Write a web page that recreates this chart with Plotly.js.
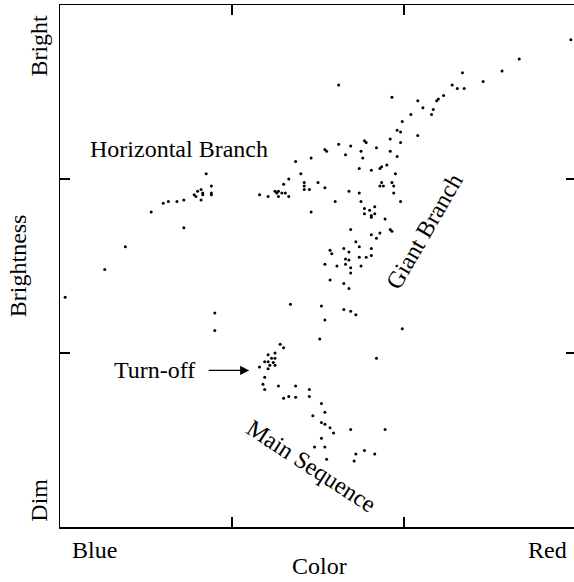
<!DOCTYPE html>
<html>
<head>
<meta charset="utf-8">
<script src="https://cdn.plot.ly/plotly-3.0.1.min.js"></script>
<style>html,body{margin:0;padding:0;background:#fff;overflow:hidden;}#chart{width:576px;height:582px;}</style>
</head>
<body>
<div id="chart"></div>
<script>
// Star colour index (0 = blue end, 3 = red end) and brightness (0 = dim, 3 = bright)
const giantColor = [2.97,2.67,2.57,2.46,2.34,2.28,2.31,2.35,2.23,2.19,2.20,2.08,2.11,2.17,2.16,2.04,1.99,2.08,1.98,1.98,1.62,1.93,1.96,1.92,
  1.54,1.55,1.62,1.69,1.77,1.78,1.84,1.92,1.96,1.75,1.76,1.66,1.46,1.37,1.74,1.81,1.86,1.87,1.90,1.95,1.40,1.33,1.30,1.25,1.26,1.27,1.29,1.31,1.27,1.33,1.21,1.16,
  1.42,1.42,1.42,1.45,1.50,1.54,1.68,1.74,1.87,1.86,1.88,1.93,1.94,1.94,1.98,1.60,1.46,1.75,
  1.77,1.80,1.83,1.77,1.81,1.83,1.81,1.89,1.92,1.93,1.69,1.81,1.86,1.84,1.72,1.74,1.81,1.65,1.68,1.66,1.68,1.74,1.78,1.81,1.66,1.69,1.75,1.69,1.61,1.54,1.57,1.58,1.57,1.65,1.68];
const giantBright = [2.80,2.69,2.62,2.56,2.61,2.54,2.52,2.52,2.48,2.45,2.46,2.45,2.41,2.40,2.37,2.37,2.33,2.25,2.27,2.21,2.54,2.47,2.28,2.23,
  2.17,2.16,2.20,2.19,2.22,2.21,2.18,2.16,2.13,2.16,2.12,2.14,2.12,2.10,2.06,2.05,2.06,2.07,2.08,2.03,2.03,2.00,1.97,1.93,1.92,1.93,1.92,1.92,1.90,1.90,1.90,1.91,
  1.98,1.96,1.94,1.94,1.98,1.95,1.93,1.92,1.98,1.96,1.96,1.98,1.96,1.92,1.87,1.87,1.81,1.87,
  1.83,1.82,1.84,1.80,1.79,1.80,1.78,1.77,1.71,1.70,1.71,1.68,1.69,1.66,1.64,1.61,1.60,1.60,1.58,1.54,1.535,1.55,1.55,1.56,1.51,1.49,1.50,1.46,1.50,1.51,1.59,1.57,1.42,1.40,1.37];

const hbColor  = [0.03,0.26,0.38,0.53,0.60,0.63,0.68,0.72,0.72,0.78,0.79,0.80,0.82,0.82,0.83,0.83,0.85,0.88,0.88,0.88];
const hbBright = [1.32,1.48,1.61,1.81,1.86,1.87,1.87,1.88,1.72,1.91,1.90,1.93,1.94,1.88,1.92,1.91,2.03,1.96,1.92,1.91];

const fieldColor  = [0.90,0.90,1.34,1.52,1.54,1.65,1.69,1.72,1.51,1.84,1.99];
const fieldBright = [1.23,1.13,1.28,1.27,1.19,1.25,1.24,1.22,1.08,0.97,1.14];

const turnoffColor  = [1.28,1.30,1.25,1.21,1.23,1.25,1.19,1.21,1.24,1.25,1.22,1.16,1.21,1.19,1.18,1.27,1.19];
const turnoffBright = [1.05,1.03,1.00,0.99,0.97,0.97,0.95,0.95,0.945,0.93,0.93,0.92,0.91,0.86,0.82,0.81,0.79];

const msColor  = [1.37,1.45,1.30,1.33,1.37,1.45,1.52,1.54,1.47,1.52,1.54,1.57,1.59,1.69,1.89,1.52,1.54,1.48,1.55,1.72,1.77,1.83,1.71];
const msBright = [0.81,0.79,0.74,0.75,0.745,0.75,0.71,0.66,0.64,0.60,0.59,0.57,0.54,0.56,0.56,0.51,0.46,0.46,0.39,0.42,0.44,0.42,0.38];

// End labels of the axes (paper positions)
const colorEnds = ["Blue","Red"];
const colorEndPos = [0.066,0.944];
const brightEnds = ["Dim","Bright"];
const brightEndPos = [0.052,0.922];

const xs = [].concat(giantColor, hbColor, fieldColor, turnoffColor, msColor);
const ys = [].concat(giantBright, hbBright, fieldBright, turnoffBright, msBright);

const serif = "Liberation Serif, Times New Roman, serif";
const fs = 24;
const font = {family: serif, size: fs, color: "#000"};

const trace = {
  type: "scatter", mode: "markers", x: xs, y: ys,
  marker: {color: "#000", size: 3}, hoverinfo: "skip", showlegend: false
};

function lab(text, x, y, xref, yref, angle) {
  return {text: text, x: x, y: y, xref: xref, yref: yref, showarrow: false,
          xanchor: "center", yanchor: "middle", textangle: angle || 0, font: font};
}

const annotations = [
  lab("Horizontal Branch", 0.69, 2.17, "x", "y"),
  lab("Giant Branch", 2.12, 1.70, "x", "y", -60),
  lab("Main Sequence", 1.46, 0.35, "x", "y", 33),
  lab("Turn-off", 0.55, 0.90, "x", "y"),
  {text: "", x: 1.10, y: 0.90, xref: "x", yref: "y", showarrow: true, ax: -42, ay: 0,
   arrowhead: 2, arrowsize: 1.4, arrowwidth: 1.3, arrowcolor: "#000"},
  lab(colorEnds[0], colorEndPos[0], -0.044, "paper", "paper"),
  lab(colorEnds[1], colorEndPos[1], -0.044, "paper", "paper"),
  lab(brightEnds[0], -0.041, brightEndPos[0], "paper", "paper", -90),
  lab(brightEnds[1], -0.041, brightEndPos[1], "paper", "paper", -90),
  lab("Color", 0.502, -0.0747, "paper", "paper"),
  lab("Brightness", -0.081, 0.5, "paper", "paper", -90)
];

const axisCommon = {
  range: [0, 3], tickvals: [0, 1, 2, 3], showticklabels: false, ticks: "inside", ticklen: 10,
  tickwidth: 1.5, tickcolor: "#000", showline: true, linecolor: "#000", linewidth: 1.5,
  mirror: "ticks", showgrid: false, zeroline: false, fixedrange: true
};

const layout = {
  width: 576, height: 582,
  margin: {l: 60, r: 0, t: 5, b: 55},
  paper_bgcolor: "#fff", plot_bgcolor: "#fff",
  xaxis: Object.assign({}, axisCommon),
  yaxis: Object.assign({}, axisCommon),
  annotations: annotations,
  showlegend: false
};

Plotly.newPlot("chart", [trace], layout, {displayModeBar: false, staticPlot: true});
</script>
</body>
</html>
